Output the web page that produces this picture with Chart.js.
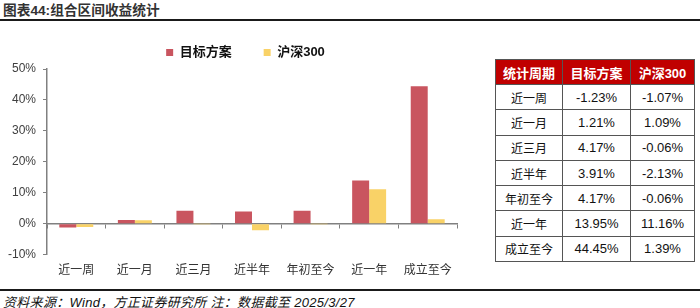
<!DOCTYPE html>
<html>
<head>
<meta charset="utf-8">
<script src="https://cdn.jsdelivr.net/npm/chart.js@4/dist/chart.umd.min.js"></script>
<style>
  body { margin: 0; width: 700px; height: 308px; background: #fff; position: relative; overflow: hidden;
         font-family: "Liberation Sans", "Noto Sans CJK SC", sans-serif; }
  #title { position: absolute; left: 3px; top: 2px; font-size: 13.7px; font-weight: bold; color: #333; line-height: 17px; }
  .rule { position: absolute; left: 0; width: 700px; height: 2px; background: #1a1a1a; }
  #chartBox { position: absolute; left: 0; top: 14px; width: 486px; height: 271px; }
  #tbl { position: absolute; left: 495px; top: 59px; border-collapse: collapse; table-layout: fixed; width: 199px; }
  #tbl th, #tbl td { border: 1px solid #555; padding: 0; text-align: center; font-size: 13px; }
  #tbl th { background: #c00000; color: #fff; font-weight: bold; height: 24px; }
  #tbl td { color: #111; height: 24.3px; }
  #tbl td.cat { font-family: "Noto Sans CJK SC", sans-serif; font-size: 12px; }
  #source { position: absolute; left: 3px; top: 295px; font-size: 13px; letter-spacing: 0.3px; font-style: italic; color: #111; line-height: 15px; }
</style>
</head>
<body>
<div id="title">图表44:组合区间收益统计</div>
<div class="rule" style="top:19px"></div>
<div id="chartBox"><canvas id="chart"></canvas></div>
<table id="tbl">
  <colgroup><col style="width:67px"><col style="width:68px"><col style="width:64px"></colgroup>
  <thead><tr id="tblHead"></tr></thead>
  <tbody id="tblBody"></tbody>
</table>
<div class="rule" style="top:289px"></div>
<div id="source">资料来源：Wind，方正证券研究所 注：数据截至 2025/3/27</div>

<script>
// 数据
const periods = ['近一周', '近一月', '近三月', '近半年', '年初至今', '近一年', '成立至今'];
const targetValues = [-1.23, 1.21, 4.17, 3.91, 4.17, 13.95, 44.45];
const hs300Values = [-1.07, 1.09, -0.06, -2.13, -0.06, 11.16, 1.39];
const seriesNames = ['目标方案', '沪深300'];
const tableHeader = ['统计周期', '目标方案', '沪深300'];
const yTicks = [-10, 0, 10, 20, 30, 40, 50];

const RED = '#c9555f';
const YELLOW = '#f9d267';
const AXIS = '#808080';

// 表格
const head = document.getElementById('tblHead');
tableHeader.forEach(h => {
  const th = document.createElement('th');
  th.textContent = h;
  head.appendChild(th);
});
const body = document.getElementById('tblBody');
periods.forEach((p, i) => {
  const tr = document.createElement('tr');
  [p, targetValues[i].toFixed(2) + '%', hs300Values[i].toFixed(2) + '%'].forEach((t, j) => {
    const td = document.createElement('td');
    td.textContent = t;
    if (j === 0) td.className = 'cat';
    tr.appendChild(td);
  });
  body.appendChild(tr);
});

// 图例整体右移一点，与原图对齐
const legendShift = {
  id: 'legendShift',
  afterLayout(chart) {
    if (chart.legend) { chart.legend.left += 17; chart.legend.right += 17; }
  }
};

// 图表
const ctx = document.getElementById('chart').getContext('2d');
new Chart(ctx, {
  type: 'bar',
  data: {
    labels: periods,
    datasets: [
      { label: seriesNames[0], data: targetValues, backgroundColor: RED, categoryPercentage: 0.58, barPercentage: 1.0 },
      { label: seriesNames[1], data: hs300Values, backgroundColor: YELLOW, categoryPercentage: 0.58, barPercentage: 1.0 }
    ]
  },
  plugins: [legendShift],
  options: {
    responsive: true,
    maintainAspectRatio: false,
    animation: false,
    layout: { padding: { left: 0, right: 29, top: 0, bottom: 0 } },
    plugins: {
      legend: {
        position: 'top',
        labels: {
          boxWidth: 7, boxHeight: 7, padding: 32, color: '#111',
          font: { size: 13, weight: 'bold', family: '"Liberation Sans", "Noto Sans CJK SC", sans-serif' }
        }
      },
      tooltip: { enabled: false }
    },
    scales: {
      x: {
        grid: { display: false, drawTicks: false },
        border: { display: false },
        ticks: { padding: 8, color: '#333', font: { size: 12, family: '"Noto Sans CJK SC", sans-serif' } }
      },
      x2: {
        type: 'category',
        position: { y: 0 },
        offset: true,
        grid: { offset: true, drawOnChartArea: false, drawTicks: true, tickLength: 4, color: AXIS },
        border: { display: true, color: AXIS, width: 1.5 },
        ticks: { display: false }
      },
      y: {
        min: yTicks[0],
        max: yTicks[yTicks.length - 1],
        afterBuildTicks: s => { s.ticks = yTicks.map(v => ({ value: v })); },
        afterFit: s => { s.width = 47; },
        grid: { drawOnChartArea: false, drawTicks: true, tickLength: 4, color: AXIS },
        border: { display: true, color: AXIS, width: 1.5 },
        ticks: {
          padding: 7, color: '#404040',
          font: { size: 12, family: '"Liberation Sans", sans-serif' },
          callback: v => v + '%'
        }
      }
    }
  }
});
</script>
</body>
</html>
